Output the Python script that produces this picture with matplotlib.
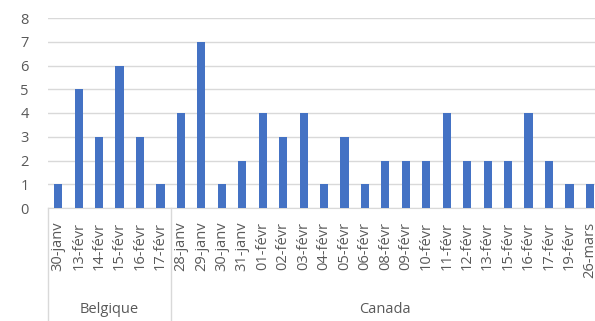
import numpy as np
import matplotlib.pyplot as plt
from matplotlib.transforms import blended_transform_factory

plt.rcParams['font.family'] = ['Open Sans', 'DejaVu Sans']

# Data
groups = ['Belgique', 'Canada']
belgique_dates = ['30-janv', '13-févr', '14-févr', '15-févr', '16-févr', '17-févr']
belgique_values = [1, 5, 3, 6, 3, 1]
canada_dates = ['28-janv', '29-janv', '30-janv', '31-janv', '01-févr', '02-févr',
                '03-févr', '04-févr', '05-févr', '06-févr', '08-févr', '09-févr',
                '10-févr', '11-févr', '12-févr', '13-févr', '15-févr', '16-févr',
                '17-févr', '19-févr', '26-mars']
canada_values = [4, 7, 1, 2, 4, 3, 4, 1, 3, 1, 2, 2, 2, 4, 2, 2, 2, 4, 2, 1, 1]

labels = belgique_dates + canada_dates
values = belgique_values + canada_values
x = np.arange(len(labels))

text_col = '#595959'
grid_col = '#D9D9D9'

fig = plt.figure(figsize=(5.95, 3.21), dpi=100)
ax = fig.add_axes([48 / 595, 113 / 321, 547 / 595, 190 / 321])

ax.bar(x, values, width=0.4, color='#4472C4', zorder=3)
ax.set_xlim(-0.5, len(labels) - 0.75)
ax.set_ylim(0, 8)
ax.set_yticks(range(0, 9))
ax.grid(axis='y', color=grid_col, linewidth=1, zorder=0)
ax.tick_params(axis='y', length=0, pad=14, labelsize=10.5, labelcolor=text_col)

ax.set_xticks(x)
ax.set_xticklabels(labels, rotation=90, fontsize=10.5, color=text_col)
ax.tick_params(axis='x', length=0, pad=10)

for s in ['top', 'right', 'left']:
    ax.spines[s].set_visible(False)
ax.spines['bottom'].set_color(grid_col)

# group separators and labels below the axis
trans = blended_transform_factory(ax.transData, ax.transAxes)
n_bel = len(belgique_dates)
for xs in [-0.5, n_bel - 0.5]:
    ax.plot([xs, xs], [0, -0.6], color=grid_col, lw=1, transform=trans, clip_on=False)
ax.text((n_bel - 1) / 2, -0.535, groups[0], transform=trans, ha='center', va='center',
        fontsize=10.5, color=text_col)
ax.text(n_bel + (len(canada_dates) - 1) / 2, -0.535, groups[1], transform=trans,
        ha='center', va='center', fontsize=10.5, color=text_col)

fig.savefig('out.png', dpi=100)
